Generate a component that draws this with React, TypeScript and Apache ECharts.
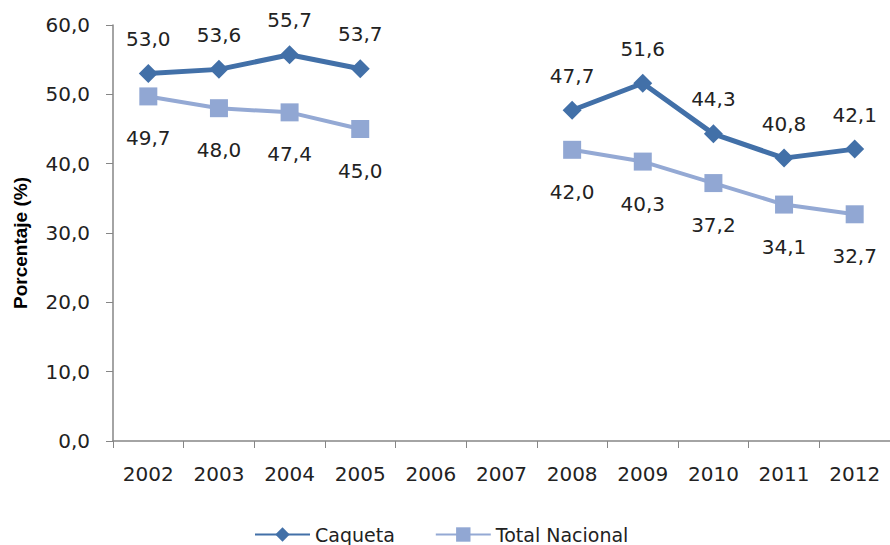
import React, { useEffect, useRef } from "react";
import * as echarts from "echarts";

const years = ["2002", "2003", "2004", "2005", "2006", "2007", "2008", "2009", "2010", "2011", "2012"];
const caqueta: (number | null)[] = [53.0, 53.6, 55.7, 53.7, null, null, 47.7, 51.6, 44.3, 40.8, 42.1];
const totalNacional: (number | null)[] = [49.7, 48.0, 47.4, 45.0, null, null, 42.0, 40.3, 37.2, 34.1, 32.7];
const yTicks = { min: 0, max: 60, interval: 10 };
const yTitle = "Porcentaje (%)";
const seriesNames = ["Caqueta", "Total Nacional"];

const FONT = "DejaVu Sans";
const fmt = (v: number) => v.toFixed(1).replace(".", ",");

export default function App() {
  const ref = useRef<HTMLDivElement>(null);
  useEffect(() => {
    if (!ref.current) return;
    const chart = echarts.init(ref.current, undefined, { renderer: "svg" });
    chart.setOption({
      animation: false,
      backgroundColor: "#ffffff",
      textStyle: { fontFamily: FONT },
      grid: { left: 113, top: 25, width: 785.5, height: 416 },
      legend: {
        left: 249,
        top: 520,
        itemWidth: 55,
        itemHeight: 18,
        itemGap: 40,
        textStyle: { fontFamily: FONT, fontSize: 19, color: "#222" },
        data: seriesNames,
      },
      graphic: [
        {
          type: "text",
          x: 20,
          y: 243,
          rotation: Math.PI / 2,
          style: {
            text: yTitle,
            fontFamily: "Liberation Sans",
            fontWeight: "bold",
            fontSize: 19,
            fill: "#000",
            align: "center",
            verticalAlign: "middle",
          },
        },
      ],
      xAxis: {
        type: "category",
        data: years,
        boundaryGap: true,
        axisLine: { lineStyle: { color: "#868686", width: 1.5 } },
        axisTick: { show: true, length: 7, lineStyle: { color: "#868686" } },
        axisLabel: { fontFamily: FONT, fontSize: 20, color: "#222", margin: 23 },
        splitLine: { show: false },
      },
      yAxis: {
        type: "value",
        min: yTicks.min,
        max: yTicks.max,
        interval: yTicks.interval,
        axisLine: { show: true, lineStyle: { color: "#868686", width: 1.5 } },
        axisTick: { show: true, length: 7, lineStyle: { color: "#868686" } },
        axisLabel: {
          fontFamily: FONT,
          fontSize: 20,
          color: "#222",
          margin: 23,
          formatter: (v: number) => fmt(v),
        },
        splitLine: { show: false },
      },
      series: [
        {
          name: seriesNames[0],
          type: "line",
          data: caqueta,
          connectNulls: false,
          symbol: "diamond",
          symbolSize: 19,
          itemStyle: { color: "#4270A8" },
          lineStyle: { color: "#4270A8", width: 5 },
          label: {
            show: true,
            position: "top",
            distance: 15,
            fontFamily: FONT,
            fontSize: 20,
            color: "#222",
            formatter: (p: any) => fmt(p.value),
          },
          z: 3,
        },
        {
          name: seriesNames[1],
          type: "line",
          data: totalNacional,
          connectNulls: false,
          symbol: "rect",
          symbolSize: 18,
          itemStyle: { color: "#91A7D3" },
          lineStyle: { color: "#94A9D4", width: 4 },
          label: {
            show: true,
            position: "bottom",
            distance: 23,
            fontFamily: FONT,
            fontSize: 20,
            color: "#222",
            formatter: (p: any) => fmt(p.value),
          },
          z: 2,
        },
      ],
    });
    return () => chart.dispose();
  }, []);
  return (
    <div style={{ position: "fixed", left: 0, top: 0, width: 890, height: 545, overflow: "hidden", background: "#fff" }}>
      <div ref={ref} style={{ width: 890, height: 545 }} />
    </div>
  );
}
